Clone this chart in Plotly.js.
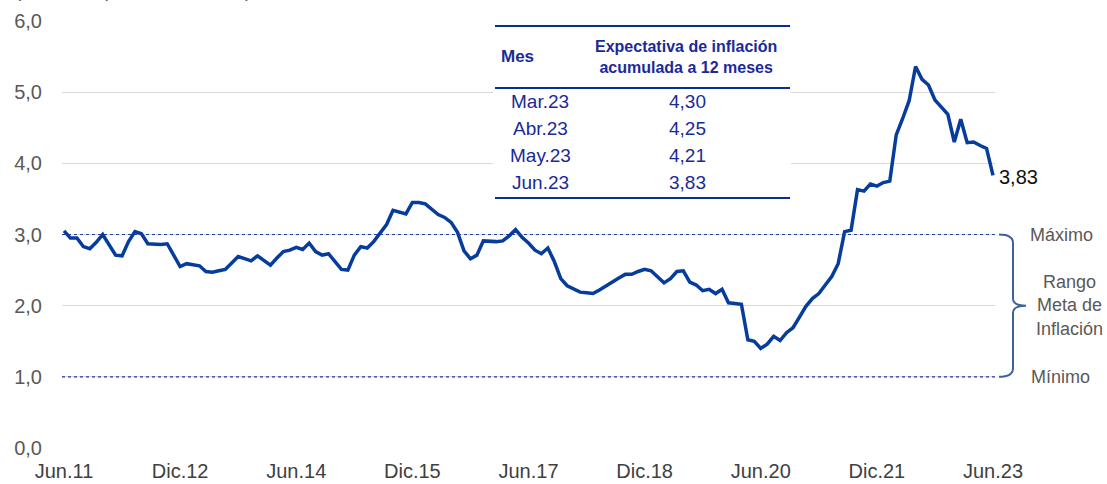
<!DOCTYPE html>
<html>
<head>
<meta charset="utf-8">
<script src="https://cdn.plot.ly/plotly-3.0.1.min.js"></script>
<style>
  html, body { margin: 0; padding: 0; background: #fff; }
  #chart { width: 1107px; height: 484px; }
</style>
</head>
<body>
<div id="chart"></div>
<script>
// expectativa de inflación a 12 meses, mensual jun.11 - jun.23
const expectativa = [
  3.05, 2.95, 2.95, 2.83, 2.80, 2.89, 3.00, 2.85, 2.71, 2.70, 2.90, 3.04,
  3.01, 2.87, 2.86, 2.86, 2.87, 2.72, 2.55, 2.59, 2.57, 2.56, 2.48, 2.47,
  2.49, 2.51, 2.60, 2.69, 2.66, 2.63, 2.70, 2.64, 2.57, 2.67, 2.76, 2.78,
  2.82, 2.79, 2.88, 2.76, 2.71, 2.73, 2.62, 2.51, 2.50, 2.71, 2.83, 2.81,
  2.90, 3.03, 3.14, 3.34, 3.31, 3.29, 3.45, 3.45, 3.43, 3.35, 3.28, 3.24,
  3.17, 3.03, 2.77, 2.66, 2.71, 2.91, 2.90, 2.90, 2.91, 2.98, 3.07, 2.96,
  2.88, 2.78, 2.73, 2.81, 2.62, 2.38, 2.28, 2.23, 2.19, 2.18, 2.17, 2.22,
  2.28, 2.34, 2.39, 2.44, 2.44, 2.48, 2.51, 2.49, 2.41, 2.32, 2.38, 2.48,
  2.49, 2.33, 2.29, 2.21, 2.23, 2.17, 2.23, 2.04, 2.03, 2.02, 1.52, 1.50,
  1.40, 1.46, 1.57, 1.51, 1.62, 1.69, 1.84, 1.99, 2.10, 2.17, 2.29, 2.41,
  2.59, 3.04, 3.06, 3.63, 3.61, 3.71, 3.68, 3.73, 3.75, 4.40, 4.63, 4.88,
  5.36, 5.18, 5.10, 4.89, 4.79, 4.69, 4.30, 4.62, 4.29, 4.30, 4.25, 4.21,
  3.83
];

const mesesNombre = ['Ene','Feb','Mar','Abr','May','Jun','Jul','Ago','Sep','Oct','Nov','Dic'];
const tickLabels = ['Jun.11','Dic.12','Jun.14','Dic.15','Jun.17','Dic.18','Jun.20','Dic.21','Jun.23'];

// tabla
const tablaMes = ['Mar.23','Abr.23','May.23','Jun.23'];
const tablaValor = [4.30, 4.25, 4.21, 3.83];

const rangoMax = 3;
const rangoMin = 1;

const fmt = (v, d) => v.toFixed(d).replace('.', ',');

// categorias mensuales
const fechas = [];
for (let i = 0; i < expectativa.length; i++) {
  const m = (5 + i) % 12;
  const y = 11 + Math.floor((5 + i) / 12);
  fechas.push(mesesNombre[m] + '.' + String(y).padStart(2, '0'));
}

const blue = '#063c9b';
const tblBlue = '#1b2a97';
const gray = '#595959';
const font = 'Liberation Sans, Arial, sans-serif';

// pixel -> paper helpers (plot area 62..995 x 21..448)
const L = 62, R = 995, T = 21, B = 448;
const px = p => (p - L) / (R - L);
const py = p => (B - p) / (B - T);

const trace = {
  x: fechas,
  y: expectativa,
  type: 'scatter',
  mode: 'lines',
  line: { color: blue, width: 3.5 },
  hoverinfo: 'x+y'
};

const shapes = [
  { type: 'line', xref: 'paper', yref: 'y', x0: 0, x1: 1, y0: rangoMax, y1: rangoMax,
    line: { color: '#1f3d99', width: 1.2, dash: 'dot' } },
  { type: 'line', xref: 'paper', yref: 'y', x0: 0, x1: 1, y0: rangoMin, y1: rangoMin,
    line: { color: '#1f3d99', width: 1.2, dash: 'dot' } },
  // llave
  { type: 'path', xref: 'paper', yref: 'y',
    path: `M ${px(999)},${rangoMax} Q ${px(1013)},${rangoMax} ${px(1013)},${rangoMax - 0.12} ` +
          `L ${px(1013)},2.1 Q ${px(1013)},2.0 ${px(1026)},2.0 Q ${px(1013)},2.0 ${px(1013)},1.9 ` +
          `L ${px(1013)},${rangoMin + 0.12} Q ${px(1013)},${rangoMin} ${px(999)},${rangoMin}`,
    line: { color: '#3f6398', width: 2 } },
  // fondo de la tabla
  { type: 'rect', xref: 'paper', yref: 'paper', x0: px(493), x1: px(791), y0: py(200), y1: py(24),
    fillcolor: '#ffffff', line: { width: 0 }, layer: 'above' },
  { type: 'line', xref: 'paper', yref: 'paper', x0: px(495), x1: px(790), y0: py(26), y1: py(26),
    line: { color: '#0b2d8f', width: 2 }, layer: 'above' },
  { type: 'line', xref: 'paper', yref: 'paper', x0: px(495), x1: px(790), y0: py(88), y1: py(88),
    line: { color: '#0b2d8f', width: 2 }, layer: 'above' },
  { type: 'line', xref: 'paper', yref: 'paper', x0: px(495), x1: px(790), y0: py(198), y1: py(198),
    line: { color: '#0b2d8f', width: 2 }, layer: 'above' }
];

const ann = (o) => Object.assign({ xref: 'paper', yref: 'paper', showarrow: false,
  xanchor: 'center', yanchor: 'middle' }, o);

const annotations = [
  ann({ x: px(13), y: py(-9), xanchor: 'left',
    text: '(Variación porcentual anual)', font: { family: font, size: 19, color: gray } }),
  ann({ xref: 'x', yref: 'y', x: fechas[fechas.length - 1], y: expectativa[expectativa.length - 1],
    text: fmt(expectativa[expectativa.length - 1], 2), xanchor: 'left', xshift: 4, yshift: -2,
    font: { family: font, size: 20, color: '#111' } }),
  ann({ yref: 'y', x: px(1061), y: rangoMax, text: 'Máximo',
    font: { family: font, size: 18, color: gray } }),
  ann({ yref: 'y', x: px(1069), y: 2.0, text: 'Rango<br>Meta de<br>Inflación',
    font: { family: font, size: 18, color: gray } }),
  ann({ yref: 'y', x: px(1060), y: rangoMin, text: 'Mínimo',
    font: { family: font, size: 18, color: gray } }),
  ann({ x: px(499), y: py(57), xanchor: 'left', text: '<b>Mes</b>',
    font: { family: font, size: 17, color: tblBlue } }),
  ann({ x: px(686), y: py(57), text: '<b>Expectativa de inflación<br>acumulada a 12 meses</b>',
    font: { family: font, size: 16, color: tblBlue } })
];

tablaMes.forEach((m, i) => {
  const rowY = py(101 + i * 27.3);
  annotations.push(ann({ x: px(540), y: rowY, text: m,
    font: { family: font, size: 19, color: tblBlue } }));
  annotations.push(ann({ x: px(687), y: rowY, text: fmt(tablaValor[i], 2),
    font: { family: font, size: 19, color: tblBlue } }));
});

const layout = {
  width: 1107,
  height: 484,
  margin: { l: L, r: 1107 - R, t: T, b: 484 - B },
  paper_bgcolor: '#fff',
  plot_bgcolor: '#fff',
  separators: ',.',
  showlegend: false,
  xaxis: {
    type: 'category',
    range: [-0.31, expectativa.length - 1 + 0.31],
    tickvals: tickLabels,
    ticktext: tickLabels,
    showgrid: false,
    zeroline: false,
    showline: false,
    ticks: '',
    tickangle: 0,
    ticklabelstandoff: 9,
    tickfont: { family: font, size: 20, color: '#404040' }
  },
  yaxis: {
    range: [0, 6],
    dtick: 1,
    tickformat: '.1f',
    showgrid: true,
    gridcolor: '#d9d9d9',
    gridwidth: 1.3,
    zeroline: false,
    showline: false,
    ticks: '',
    ticklabelstandoff: 19,
    tickfont: { family: font, size: 20, color: gray }
  },
  shapes: shapes,
  annotations: annotations
};

Plotly.newPlot('chart', [trace], layout, { displayModeBar: false, staticPlot: true });
</script>
</body>
</html>
